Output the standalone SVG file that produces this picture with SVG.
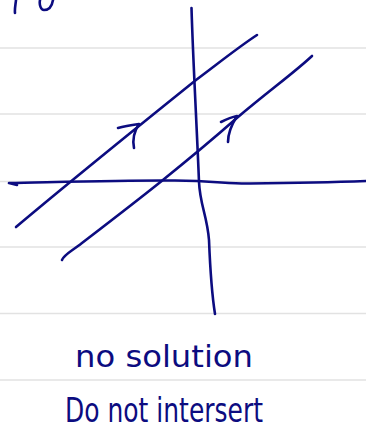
<svg xmlns="http://www.w3.org/2000/svg" width="366" height="430" viewBox="0 0 366 430">
<style>
.rule{stroke:#e2e2e2;stroke-width:1.6;fill:none}
.ink{stroke:#0c0c80;stroke-width:2.6;fill:none;stroke-linecap:round;stroke-linejoin:round}
.txt{fill:#0c0c80;font-family:"DejaVu Sans","Liberation Sans",sans-serif}
</style>
<rect width="366" height="430" fill="#ffffff"/>
<g id="paper-lines">
<line class="rule" x1="0" y1="48" x2="366" y2="48"/>
<line class="rule" x1="0" y1="114" x2="366" y2="114"/>
<line class="rule" x1="0" y1="181.5" x2="366" y2="181.5"/>
<line class="rule" x1="0" y1="247" x2="366" y2="247"/>
<line class="rule" x1="0" y1="313.5" x2="366" y2="313.5"/>
<line class="rule" x1="0" y1="380" x2="366" y2="380"/>
</g>
<g id="fragments">
<path class="ink" d="M16,0 C15.5,5 14.5,9 15,13"/>
<path class="ink" d="M40,0 C39,5 41,10 44,10 C49,10 52,6 53,0"/>
</g>
<g id="connectors">
<path id="y-axis" class="ink" d="M191.5,8 C193,60 197,130 199,182 C200,205 207,215 209,240 C210,265 212,295 215,314"/>
<path id="x-axis" class="ink" d="M17,185 L9,183 C60,182 130,180 175,180.5 C215,181 230,184 250,183.5 C300,183 340,182 366,181"/>
<path id="line-1" class="ink" d="M16,227 C60,190 140,125 196,80 C220,62 240,46 257,35"/>
<path id="line-2" class="ink" d="M62,260 C64,255 70,252 78,246 C130,206 180,168 238,117 C270,90 295,72 312,56"/>
<path id="arrow-1" class="ink" d="M118,128 C125,126 132,125 139,124 C135,130 132,138 134,148"/>
<path id="arrow-2" class="ink" d="M221,122 C227,119 232,117 237,116 C232,124 228,133 228,142"/>
</g>
<g id="label-no-solution">
<text class="txt" x="75" y="367" font-size="31" textLength="178" lengthAdjust="spacingAndGlyphs">no solution</text>
</g>
<g id="label-do-not-intersect">
<text class="txt" x="65" y="422" font-size="33" textLength="198" lengthAdjust="spacingAndGlyphs">Do not intersert</text>
</g>
</svg>
